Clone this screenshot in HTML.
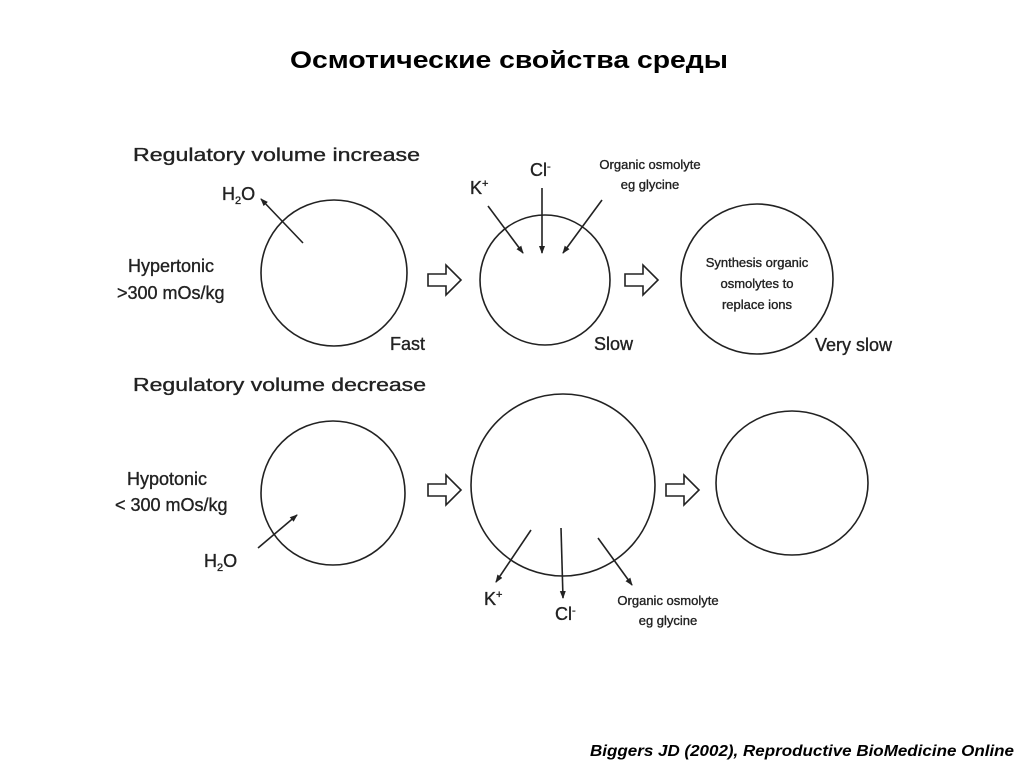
<!DOCTYPE html>
<html><head><meta charset="utf-8"><style>
html,body{margin:0;padding:0;background:#fff;}
svg{display:block;}
text{font-family:"Liberation Sans",sans-serif;fill:#222;}
g.t text{stroke:#222;stroke-width:0.35;}
</style></head><body>
<svg width="1024" height="767" viewBox="0 0 1024 767">
<defs><marker id="a" markerWidth="8" markerHeight="8" refX="7" refY="4" orient="auto" markerUnits="userSpaceOnUse"><path d="M0,1 L8,4 L0,7z" fill="#222"/></marker></defs>
<text x="509" y="68" text-anchor="middle" font-size="24" font-weight="bold" style="fill:#000" textLength="438" lengthAdjust="spacingAndGlyphs">Осмотические свойства среды</text>
<g stroke="#222" stroke-width="1.6" fill="none">
<circle cx="334" cy="273" r="73"/>
<circle cx="545" cy="280" r="65"/>
<ellipse cx="757" cy="279" rx="76" ry="75"/>
<circle cx="333" cy="493" r="72"/>
<ellipse cx="563" cy="485" rx="92" ry="91"/>
<ellipse cx="792" cy="483" rx="76" ry="72"/>
<line x1="303" y1="243" x2="261" y2="199" marker-end="url(#a)"/>
<line x1="488" y1="206" x2="523" y2="253" marker-end="url(#a)"/>
<line x1="542" y1="188" x2="542" y2="253" marker-end="url(#a)"/>
<line x1="602" y1="200" x2="563" y2="253" marker-end="url(#a)"/>
<line x1="258" y1="548" x2="297" y2="515" marker-end="url(#a)"/>
<line x1="531" y1="530" x2="496" y2="582" marker-end="url(#a)"/>
<line x1="561" y1="528" x2="563" y2="598" marker-end="url(#a)"/>
<line x1="598" y1="538" x2="632" y2="585" marker-end="url(#a)"/>
<path d="M428,274 h18 v-9 l15,15 l-15,15 v-9 h-18z"/>
<path d="M625,274 h18 v-9 l15,15 l-15,15 v-9 h-18z"/>
<path d="M428,484 h18 v-9 l15,15 l-15,15 v-9 h-18z"/>
<path d="M666,484 h18 v-9 l15,15 l-15,15 v-9 h-18z"/>
</g>
<g font-size="18" class="t">
<text x="133" y="161" textLength="287" lengthAdjust="spacingAndGlyphs">Regulatory volume increase</text>
<text x="133" y="391" textLength="293" lengthAdjust="spacingAndGlyphs">Regulatory volume decrease</text>
<text x="222" y="200">H<tspan font-size="11" dy="4">2</tspan><tspan dy="-4">O</tspan></text>
<text x="128" y="272">Hypertonic</text>
<text x="117" y="299">&gt;300 mOs/kg</text>
<text x="390" y="350">Fast</text>
<text x="594" y="350">Slow</text>
<text x="815" y="351">Very slow</text>
<text x="470" y="194">K<tspan font-size="11" dy="-7">+</tspan></text>
<text x="530" y="176">Cl<tspan font-size="11" dy="-6">-</tspan></text>
<text x="127" y="485">Hypotonic</text>
<text x="115" y="511">&lt; 300 mOs/kg</text>
<text x="204" y="567">H<tspan font-size="11" dy="4">2</tspan><tspan dy="-4">O</tspan></text>
<text x="484" y="605">K<tspan font-size="11" dy="-7">+</tspan></text>
<text x="555" y="620">Cl<tspan font-size="11" dy="-6">-</tspan></text>
</g>
<g font-size="13" text-anchor="middle" class="t">
<text x="650" y="169">Organic osmolyte</text>
<text x="650" y="189">eg glycine</text>
<text x="757" y="267">Synthesis organic</text>
<text x="757" y="288">osmolytes to</text>
<text x="757" y="309">replace ions</text>
<text x="668" y="605">Organic osmolyte</text>
<text x="668" y="625">eg glycine</text>
</g>
<text x="1014" y="756" text-anchor="end" font-size="16" font-style="italic" font-weight="bold" style="fill:#000" textLength="424" lengthAdjust="spacingAndGlyphs">Biggers JD (2002), Reproductive BioMedicine Online</text>
</svg>
</body></html>
